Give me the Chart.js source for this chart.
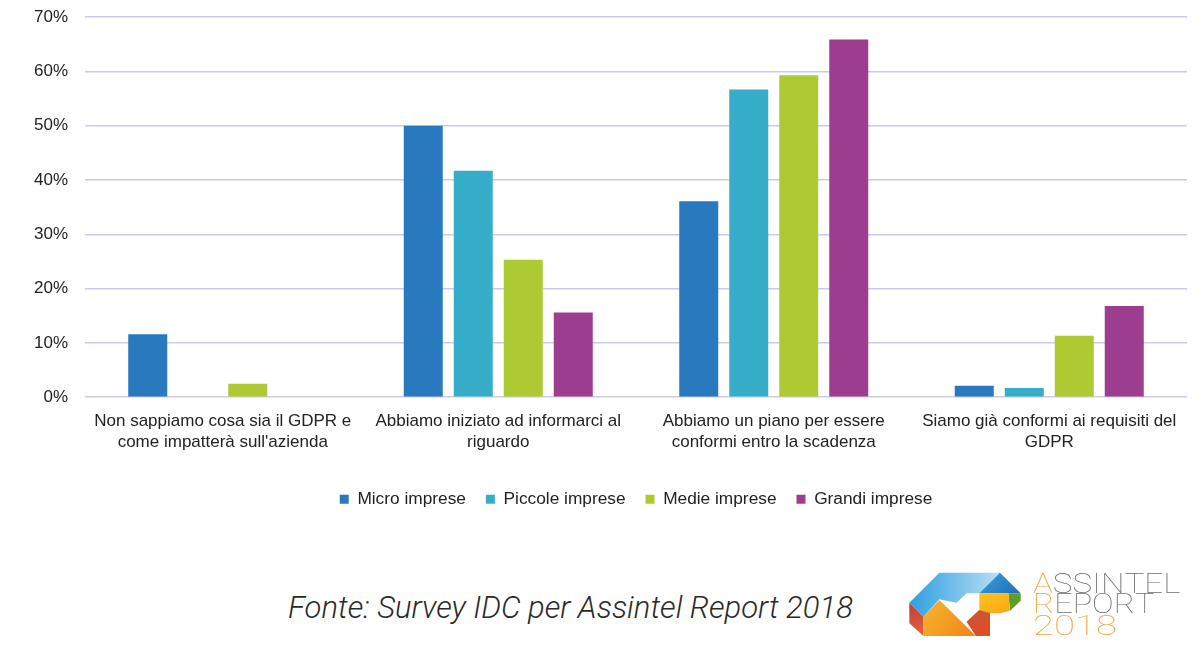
<!DOCTYPE html>
<html>
<head>
<meta charset="utf-8">
<script src="https://cdn.jsdelivr.net/npm/chart.js@4"></script>
<style>
  body { margin: 0; background: #fff; width: 1200px; height: 649px; overflow: hidden; position: relative; }
  #chartBox { position: absolute; left: 0; top: -10px; width: 1200px; height: 528px; }
  #source { position: absolute; left: 288px; top: 589px; line-height: 1; font: italic 300 31px Roboto, "Liberation Sans", sans-serif; color: #2a2a2a; white-space: nowrap; }
  #logo { position: absolute; left: 900px; top: 560px; }
</style>
</head>
<body>
<div id="chartBox"><canvas id="barChart"></canvas></div>
<div id="source">Fonte: Survey IDC per Assintel Report 2018</div>
<canvas id="logo" width="300" height="89"></canvas>
<script>
// categories (two-line labels)
const categories = [
  ['Non sappiamo cosa sia il GDPR e', "come impatterà sull'azienda"],
  ['Abbiamo iniziato ad informarci al', 'riguardo'],
  ['Abbiamo un piano per essere', 'conformi entro la scadenza'],
  ['Siamo già conformi ai requisiti del', 'GDPR']
];
const seriesNames = ['Micro imprese', 'Piccole imprese', 'Medie imprese', 'Grandi imprese'];

// values in %
const micro = [11.6, 50.0, 36.1, 2.1];
const piccole = [0, 41.7, 56.7, 1.7];
const medie = [2.5, 25.3, 59.3, 11.3];
const grandi = [0, 15.6, 65.9, 16.8];

const yTicks = [0, 10, 20, 30, 40, 50, 60, 70];

const colors = ['#2879bd', '#36adc9', '#aeca33', '#9d3d8f'];
const seriesValues = [micro, piccole, medie, grandi];

const font = "'Liberation Sans', Arial, sans-serif";

// center the legend under the plot area instead of the whole canvas
const legendUnderPlot = {
  id: 'legendUnderPlot',
  afterLayout(chart) {
    const lg = chart.legend;
    if (!lg) return;
    lg.left = chart.chartArea.left;
    lg.right = chart.chartArea.right;
    lg.width = lg.right - lg.left;
  },
};

const canvas = document.getElementById('barChart');
new Chart(canvas.getContext('2d'), {
  type: 'bar',
  data: {
    labels: categories,
    datasets: seriesNames.map((name, i) => ({
      label: name,
      data: seriesValues[i],
      backgroundColor: colors[i],
      borderWidth: 0,
      categoryPercentage: 0.726,
      barPercentage: 0.78,
    })),
  },
  plugins: [legendUnderPlot],
  options: {
    responsive: true,
    maintainAspectRatio: false,
    animation: false,
    layout: { padding: { top: 6, right: 13, left: 0, bottom: 0 } },
    plugins: {
      tooltip: { enabled: false },
      legend: {
        position: 'bottom',
        labels: {
          boxWidth: 9,
          boxHeight: 9,
          padding: 20,
          color: '#222',
          font: { family: font, size: 17.3 },
        },
      },
    },
    scales: {
      x: {
        grid: { display: false, drawTicks: false },
        border: { display: false },
        ticks: {
          color: '#222',
          padding: 13,
          maxRotation: 0,
          font: { family: font, size: 17, lineHeight: 1.25 },
        },
        afterFit: (scale) => { scale.height = 73.5; },
      },
      y: {
        min: 0,
        max: 70,
        afterBuildTicks: (scale) => { scale.ticks = yTicks.map(v => ({ value: v })); },
        grid: { color: '#cacbe8', lineWidth: 1.6, drawTicks: false },
        border: { display: false },
        ticks: {
          color: '#222',
          padding: 17,
          font: { family: font, size: 17 },
          callback: (v) => v + '%',
        },
        afterFit: (scale) => { scale.width = 85; },
      },
    },
  },
});

// Assintel logo (decorative)
const lc = document.getElementById('logo').getContext('2d');
lc.scale(1 / 3, 1 / 3);
function poly(pts, fill) {
  lc.beginPath();
  lc.moveTo(pts[0][0], pts[0][1]);
  pts.slice(1).forEach(p => lc.lineTo(p[0], p[1]));
  lc.closePath();
  lc.fillStyle = fill;
  lc.fill();
}
function grad(x0, y0, x1, y1, c0, c1) {
  const g = lc.createLinearGradient(x0, y0, x1, y1);
  g.addColorStop(0, c0); g.addColorStop(1, c1);
  return g;
}
// red left edge
poly([[28, 128], [70, 170], [70, 228], [28, 190]], grad(28, 130, 70, 228, '#b9423a', '#e8603a'));
// orange mountain
poly([[70, 170], [118, 120], [228, 228], [70, 228]], grad(70, 130, 200, 228, '#f7b42a', '#f08a1c'));
// blue band
poly([[28, 128], [118, 38], [300, 38], [238, 100], [200, 100], [170, 128], [118, 118], [70, 170]],
  grad(28, 60, 300, 60, '#2f9fe0', '#b9dff5'));
// dark blue right face
poly([[300, 38], [362, 100], [238, 100]], grad(300, 40, 362, 100, '#2f8fd0', '#1f6fb5'));
// green wedge
poly([[362, 100], [362, 122], [330, 152], [325, 100]], '#5c9e2e');
// yellow block
poly([[238, 100], [325, 100], [330, 152], [300, 160], [270, 160], [270, 228], [228, 228], [200, 185], [238, 150]],
  grad(238, 100, 300, 228, '#ffc21c', '#f49a18'));
// red lower right
poly([[200, 185], [238, 150], [270, 160], [270, 228], [228, 228]], grad(200, 160, 270, 228, '#c8573c', '#e24b20'));

lc.setTransform(1, 0, 0, 1, 0, 0);
function logoText(txt, x, y, w, firstOrange, allOrange) {
  lc.font = '100 28px Roboto, Lato, sans-serif';
  lc.textBaseline = 'alphabetic';
  const total = lc.measureText(txt).width;
  const sx = w / total;
  lc.save();
  lc.translate(x, y);
  lc.scale(sx, 1);
  let cx = 0;
  for (let i = 0; i < txt.length; i++) {
    lc.fillStyle = (allOrange || (firstOrange && i === 0)) ? '#e9a43a' : '#6d6d6d';
    lc.fillText(txt[i], cx, 0);
    cx += lc.measureText(txt[i]).width;
  }
  lc.restore();
}
logoText('ASSINTEL', 133, 33, 147, true, false);
logoText('REPORT', 133, 53, 120, true, false);
logoText('2018', 133, 75, 84, false, true);
</script>
</body>
</html>
